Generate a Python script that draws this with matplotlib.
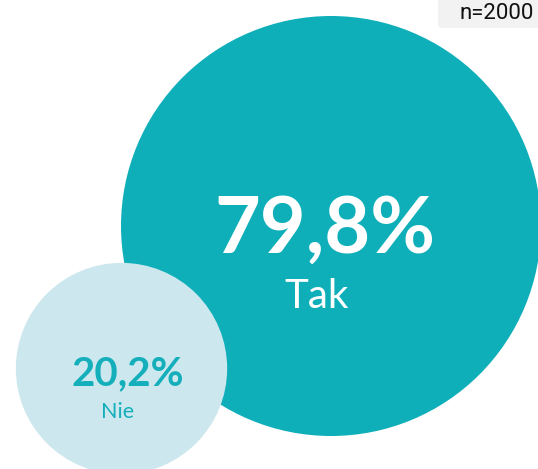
import numpy as np
import matplotlib.pyplot as plt
from matplotlib.patches import Circle, FancyBboxPatch

labels = ["Tak", "Nie"]
values = [79.8, 20.2]
sample_note = "n=2000"

W, H = 538, 469
SCALE = 210 / np.sqrt(values[0])  # radius in px for the largest bubble
centers = [(331, 226), (121.5, 368.5)]
fills = ["#0FAFBA", "#CCE8EE"]
text_colors = ["white", "#14AFBB"]
value_sizes = [57, 29]
label_sizes = [29, 15.5]
# (dx, dy) of value baseline and label baseline relative to centre
value_off = [(-6, 27), (6, 17)]
label_off = [(-14, 82), (-4, 50)]

fig = plt.figure(figsize=(W / 100, H / 100), dpi=100)
ax = fig.add_axes([0, 0, 1, 1])
ax.set_xlim(0, W)
ax.set_ylim(H, 0)
ax.set_aspect("equal")
ax.axis("off")

for i, (lab, val) in enumerate(zip(labels, values)):
    cx, cy = centers[i]
    r = SCALE * np.sqrt(val)
    ax.add_patch(Circle((cx, cy), r, facecolor=fills[i], edgecolor="none"))
    txt = f"{val:.1f}%".replace(".", ",")
    ax.text(cx + value_off[i][0], cy + value_off[i][1], txt, ha="center",
            va="baseline", fontsize=value_sizes[i], fontweight="bold",
            family="Lato", color=text_colors[i])
    ax.text(cx + label_off[i][0], cy + label_off[i][1], lab, ha="center",
            va="baseline", fontsize=label_sizes[i], family="Lato",
            color=text_colors[i])

ax.add_patch(FancyBboxPatch((438, -20), 120, 48,
                            boxstyle="round,pad=0,rounding_size=4",
                            facecolor="#F2F2F2", edgecolor="none"))
ax.text(534, 19, sample_note, ha="right", va="baseline", fontsize=16,
        family="Roboto", color="#111111")

fig.savefig("out.png", dpi=100)
